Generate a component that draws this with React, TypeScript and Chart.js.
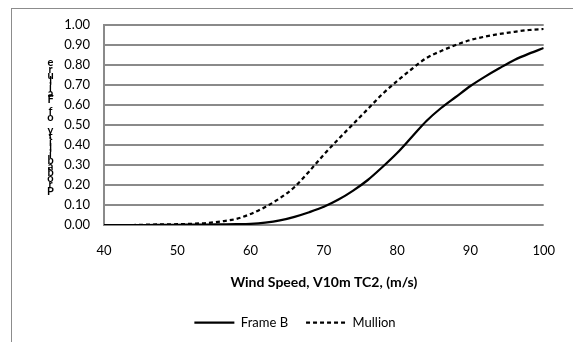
import React, { useEffect, useRef } from "react";
import { Chart, registerables } from "chart.js";

Chart.register(...registerables);

const windSpeeds = [40, 42, 44, 46, 48, 50, 52, 54, 56, 58, 60, 62, 64, 66, 68, 70, 72, 74, 76, 78, 80, 82, 84, 86, 88, 90, 92, 94, 96, 98, 100];
const frameB = [0, 0, 0, 0, 0.001, 0.001, 0.002, 0.002, 0.003, 0.004, 0.006, 0.012, 0.023, 0.041, 0.064, 0.091, 0.127, 0.172, 0.225, 0.29, 0.36, 0.44, 0.52, 0.585, 0.64, 0.695, 0.742, 0.785, 0.825, 0.857, 0.885];
const mullion = [0, 0, 0, 0.002, 0.003, 0.004, 0.006, 0.01, 0.018, 0.03, 0.055, 0.09, 0.134, 0.19, 0.268, 0.352, 0.43, 0.505, 0.58, 0.655, 0.72, 0.78, 0.835, 0.87, 0.9, 0.925, 0.942, 0.955, 0.966, 0.975, 0.98];
const seriesNames = ["Frame B", "Mullion"];
const seriesDash = [[], [4, 3]];
const xTitle = "Wind Speed, V10m TC2, (m/s)";
const yTitle = "Probability of Failure";

const FONT = "Lato, 'Open Sans', sans-serif";
const GRID = "#8a8a8a";

const frameAndTitle = {
  id: "frameAndTitle",
  afterDraw(chart: any) {
    const ctx = chart.ctx;
    ctx.save();
    ctx.strokeStyle = "#8c8c8c";
    ctx.lineWidth = 1;
    ctx.strokeRect(11.5, 8.5, 700, 500);
    // stacked (upright) y title, reading bottom to top
    const area = chart.chartArea;
    const cy = (area.top + area.bottom) / 2 + 2;
    const step = 6.1;
    const chars = yTitle.split("");
    ctx.fillStyle = "#000";
    ctx.font = "bold 11px " + FONT;
    ctx.textAlign = "center";
    ctx.textBaseline = "middle";
    chars.forEach((c, i) => {
      const y = cy + ((chars.length - 1) / 2 - i) * step;
      ctx.fillText(c, 50.5, y);
    });
    ctx.restore();
  },
};

export default function App() {
  const ref = useRef<HTMLCanvasElement | null>(null);
  useEffect(() => {
    document.body.style.margin = "0";
    const canvas = ref.current!;
    const chart = new Chart(canvas, {
      type: "line",
      data: {
        datasets: [
          {
            label: seriesNames[0],
            data: windSpeeds.map((x, i) => ({ x, y: frameB[i] })),
            borderColor: "#000",
            backgroundColor: "#000",
            borderWidth: 2.25,
            borderDash: seriesDash[0],
            pointRadius: 0,
            cubicInterpolationMode: "monotone",
            fill: false,
          },
          {
            label: seriesNames[1],
            data: windSpeeds.map((x, i) => ({ x, y: mullion[i] })),
            borderColor: "#000",
            backgroundColor: "#000",
            borderWidth: 2.25,
            borderDash: seriesDash[1],
            pointRadius: 0,
            cubicInterpolationMode: "monotone",
            fill: false,
          },
        ],
      },
      options: {
        animation: false,
        responsive: false,
        maintainAspectRatio: false,
        layout: { padding: { left: 17, right: 0, top: 25, bottom: 3 } },
        plugins: {
          legend: {
            position: "bottom",
            labels: {
              usePointStyle: true,
              pointStyle: "line",
              pointStyleWidth: 40,
              boxWidth: 40,
              boxHeight: 13,
              padding: 18,
              color: "#000",
              font: { family: FONT, size: 13 },
              generateLabels: (chart: any) => {
                const items = Chart.defaults.plugins.legend.labels.generateLabels(chart);
                items.forEach((it: any, i: number) => {
                  it.lineDash = seriesDash[i];
                  it.lineWidth = 2.25;
                  it.strokeStyle = "#000";
                });
                return items;
              },
            },
          },
          tooltip: { enabled: false },
        },
        scales: {
          x: {
            type: "linear",
            min: 40,
            max: 100,
            afterFit: (s: any) => {
              s.height = 73;
            },
            ticks: {
              stepSize: 10,
              padding: 18,
              color: "#000",
              font: { family: FONT, size: 13 },
            },
            grid: { display: false, drawTicks: false },
            border: { display: false },
            title: {
              display: true,
              text: xTitle,
              color: "#000",
              font: { family: FONT, size: 14, weight: "bold" },
              padding: { top: 16, bottom: 7 },
            },
          },
          y: {
            min: 0,
            max: 1,
            afterFit: (s: any) => {
              s.width = 87;
            },
            ticks: {
              stepSize: 0.1,
              padding: 14,
              color: "#000",
              font: { family: FONT, size: 13 },
              callback: (v: any) => Number(v).toFixed(2),
            },
            grid: { color: GRID, lineWidth: 2, drawTicks: false },
            border: { color: GRID, width: 2 },
          },
          y2: {
            position: "right",
            display: true,
            afterFit: (s: any) => {
              s.width = 26;
            },
            ticks: { display: false },
            grid: { display: false, drawTicks: false },
            border: { display: false },
          },
        },
      },
      plugins: [frameAndTitle],
    } as any);
    return () => chart.destroy();
  }, []);
  return (
    <div style={{ width: 573, height: 342 }}>
      <canvas ref={ref} width={573} height={342} style={{ display: "block" }} />
    </div>
  );
}
